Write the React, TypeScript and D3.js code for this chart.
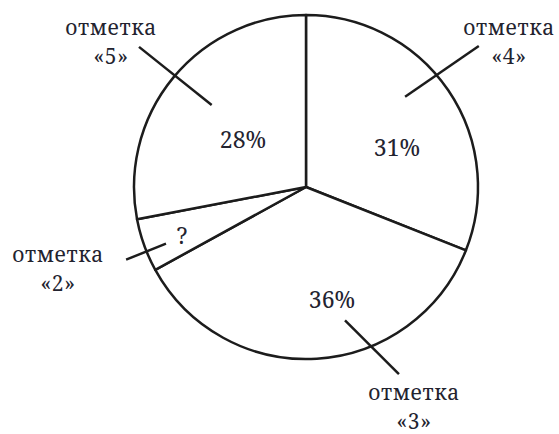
import React from "react";
import * as d3 from "d3";

const grades = ["«4»", "«3»", "«2»", "«5»"];
const shares = [31, 36, 5, 28];
const shareLabels = ["31%", "36%", "?", "28%"];
const word = "отметка";

// layout (not data)
const W = 559, H = 434;
const cx = 306, cy = 187, R = 172;
const pctPos: [number, number][] = [[91, -31], [26, 121], [-124, 57], [-63, -39]];
const leaders: [number, number, number, number][] = [
  [47.7, 134, 50.8, 223],
  [163.7, 139, 153.6, 209],
  [248, 151, 248, 194],
  [311, 125, 310, 218],
];
const namePos: [number, number][] = [[509, 35], [414, 400], [58, 262], [111, 35]];
const FONT = "Noto Serif, DejaVu Serif, serif";

export default function App() {
  const pie = d3.pie<number>().sort(null).startAngle(0).endAngle(2 * Math.PI);
  const arcs = pie(shares);
  const arc = d3.arc<d3.PieArcDatum<number>>().innerRadius(0).outerRadius(R);
  const rad = (a: number) => (a * Math.PI) / 180;
  const textColor = "#23232f";
  const ts = { fontFamily: FONT, fontSize: 23 };
  const ns = { fontFamily: FONT, fontSize: 21, letterSpacing: 0.6 };
  return (
    <svg width={W} height={H} style={{ position: "absolute", left: 0, top: 0, background: "#fff" }}>
      <g transform={`translate(${cx},${cy})`}>
        {arcs.map((a, i) => (
          <path key={i} d={arc(a) || ""} fill="#fff" stroke="#1c1c1c" strokeWidth={2.5} strokeLinejoin="round" />
        ))}
        {leaders.map((l, i) => {
          const p1 = d3.pointRadial(rad(l[0]), l[1]);
          const p2 = d3.pointRadial(rad(l[2]), l[3]);
          return <line key={i} x1={p1[0]} y1={p1[1]} x2={p2[0]} y2={p2[1]} stroke="#1c1c1c" strokeWidth={2.5} />;
        })}
        {shareLabels.map((t, i) => (
          <text key={i} x={pctPos[i][0]} y={pctPos[i][1]} textAnchor="middle" style={ts} fill={textColor}>
            {t}
          </text>
        ))}
      </g>
      {grades.map((g, i) => (
        <g key={i}>
          <text x={namePos[i][0]} y={namePos[i][1]} textAnchor="middle" style={ns} fill={textColor}>{word}</text>
          <text x={namePos[i][0]} y={namePos[i][1] + 29} textAnchor="middle" style={ns} fill={textColor}>{g}</text>
        </g>
      ))}
    </svg>
  );
}
